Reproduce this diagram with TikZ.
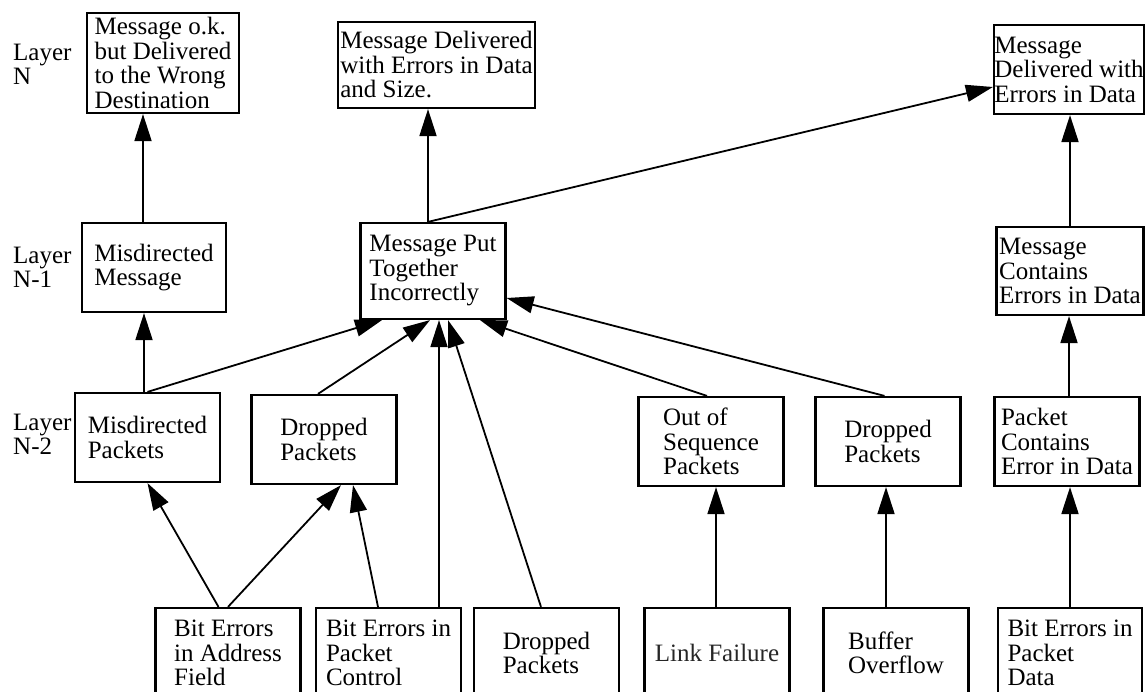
\documentclass[tikz,border=0pt]{standalone}
\usepackage{fontspec}
\setmainfont{Liberation Serif}
\usetikzlibrary{arrows.meta}

\begin{document}
\begin{tikzpicture}[x=1pt,y=-1pt,
		fault/.style={draw,line width=2.2pt,align=left,inner sep=0pt,minimum width=145pt,minimum height=89pt,font=\fontsize{25}{24.5}\selectfont},
		layer/.style={align=left,inner sep=0pt,anchor=north west,font=\fontsize{25}{24.5}\selectfont},
		up/.style={-{Triangle[length=27pt,width=17pt]},line width=1.8pt}]
				\useasboundingbox (0,0) rectangle (1145,692);
				\clip (0,0) rectangle (1145,692);
				% layer N
				\node[layer] (lyN) at (13,43.5) {Layer\\N};
				\node[fault,minimum width=152pt,minimum height=100pt] (okwrong) at (163,63) {Message o.k.\\but Delivered\\to the Wrong\\Destination};
				\node[fault,minimum width=197pt,minimum height=86pt] (errsize) at (436.5,65) {Message Delivered\\with Errors in Data\\and Size.};
				\node[fault,minimum width=150pt] (errdata) at (1069,69.5) {Message\\Delivered with\\Errors in Data};
				% layer N-1
				\node[layer] (lyN1) at (13,246.5) {Layer\\N-1};
				\node[fault,minimum width=144pt] (misdmsg) at (154,267.5) {Misdirected\\Message};
				\node[fault,minimum height=96pt] (puttog) at (433,271) {Message Put\\Together\\Incorrectly};
				\node[fault,minimum width=147pt,minimum height=88pt] (msgerr) at (1070,271) {Message\\Contains\\Errors in Data};
				% layer N-2
				\node[layer] (lyN2) at (13,413.5) {Layer\\N-2};
				\node[fault] (misdpkt) at (147.5,437.5) {Misdirected\\Packets};
				\node[fault] (drop1) at (324,439.5) {Dropped\\Packets};
				\node[fault] (outseq) at (711,441.5) {Out of\\Sequence\\Packets};
				\node[fault] (drop2) at (888,441.5) {Dropped\\Packets};
				\node[fault] (pkterr) at (1067,441.5) {Packet\\Contains\\Error in Data};
				% causes
				\node[fault,minimum height=90pt] (biaddr) at (228,653) {Bit Errors\\in Address\\Field};
				\node[fault,minimum height=90pt] (bictrl) at (388.5,653) {Bit Errors in\\Packet\\Control};
				\node[fault,minimum height=90pt] (dropb) at (546.5,653) {Dropped\\Packets};
				\node[fault,minimum height=90pt,text=black!85] (linkf) at (717,653) {Link Failure};
				\node[fault,minimum height=90pt] (bufov) at (896,653) {Buffer\\Overflow};
				\node[fault,minimum height=90pt,minimum width=144pt] (bidata) at (1070,653) {Bit Errors in\\Packet\\Data};
				% into layer N
				\draw[up] ([xshift=-11pt]misdmsg.north) -- ([xshift=-11pt]misdmsg.north |- okwrong.south);
				\draw[up] ([xshift=-5pt]puttog.north) -- ([xshift=-5pt]puttog.north |- errsize.south);
				\draw[up] ([xshift=-5pt]puttog.north) -- ([yshift=-17.5pt]errdata.west);
				\draw[up] (msgerr.north) -- (msgerr.north |- errdata.south);
				% into layer N-1
				\draw[up] ([xshift=-3.5pt]misdpkt.north) -- ([xshift=-3.5pt]misdpkt.north |- misdmsg.south);
				\draw[up] (misdpkt.north) -- ([xshift=-51pt]puttog.south);
				\draw[up] ([xshift=-6pt]drop1.north) -- ([xshift=-3pt]puttog.south);
				\draw[up] ([xshift=50.5pt]bictrl.north) -- ([xshift=50.5pt]bictrl.north |- puttog.south);
				\draw[up] ([xshift=-5.5pt]dropb.north) -- ([xshift=15pt]puttog.south);
				\draw[up] ([xshift=-4pt]outseq.north) -- ([xshift=47pt]puttog.south);
				\draw[up] ([xshift=-3.5pt]drop2.north) -- ([yshift=-27pt]puttog.east);
				\draw[up] ([xshift=2pt]pkterr.north) -- ([xshift=2pt]pkterr.north |- msgerr.south);
				% into layer N-2
				\draw[up] ([xshift=-9.5pt]biaddr.north) -- (misdpkt.south);
				\draw[up] (biaddr.north) -- ([xshift=17pt]drop1.south);
				\draw[up] ([xshift=-10.5pt]bictrl.north) -- ([xshift=29pt]drop1.south);
				\draw[up] ([xshift=-1pt]linkf.north) -- ([xshift=-1pt]linkf.north |- outseq.south);
				\draw[up] ([xshift=-10pt]bufov.north) -- ([xshift=-10pt]bufov.north |- drop2.south);
				\draw[up] (bidata.north) -- (bidata.north |- pkterr.south);
			\end{tikzpicture}
\end{document}
